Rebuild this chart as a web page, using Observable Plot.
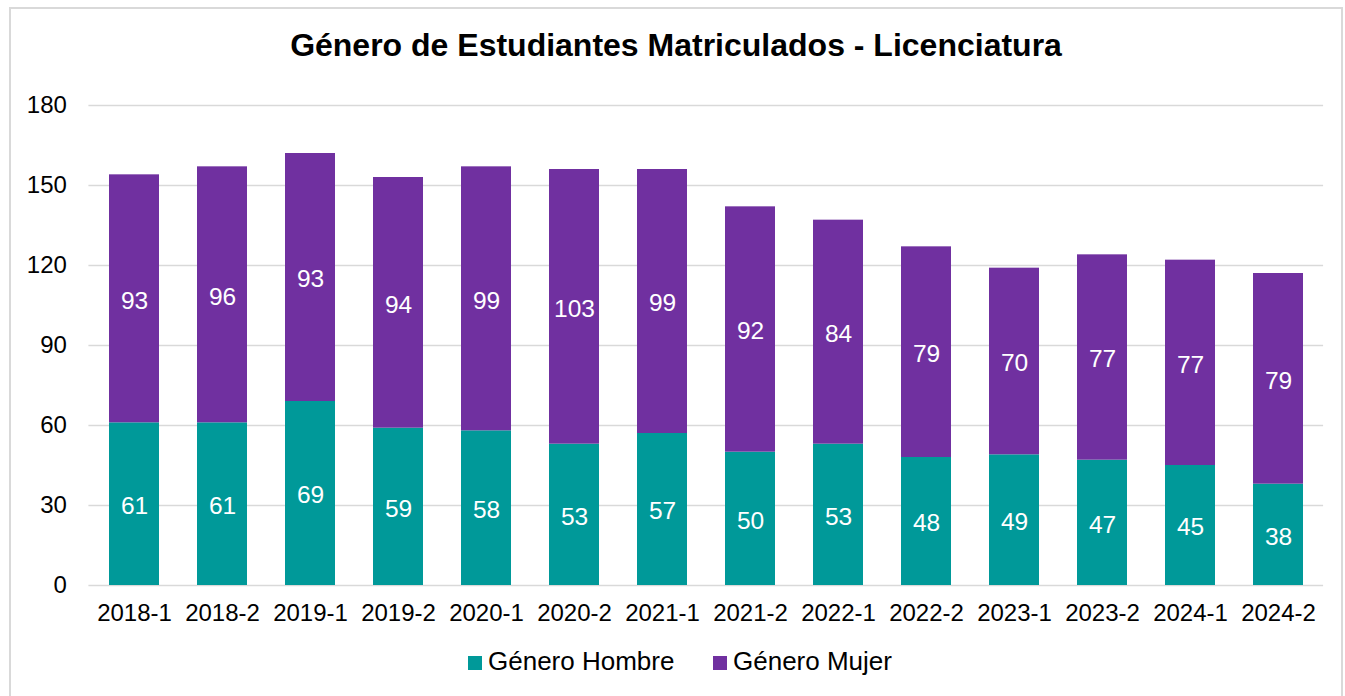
<!DOCTYPE html>
<html>
<head>
<meta charset="utf-8">
<script src="https://cdn.jsdelivr.net/npm/d3@7"></script>
<script src="https://cdn.jsdelivr.net/npm/@observablehq/plot@0.6"></script>
<style>
  html, body { margin: 0; padding: 0; background: #fff; }
  body { width: 1345px; height: 696px; position: relative; overflow: hidden; font-family: "Liberation Sans", Arial, sans-serif; }
  #frame { position: absolute; left: 9px; top: 7px; width: 1334px; height: 720px; box-sizing: border-box; border: 2px solid #d9d9d9; }
  #title { position: absolute; left: 9px; width: 1334px; top: 29px; text-align: center; font-size: 32px; line-height: 32px; font-weight: bold; color: #000; }
  #chart { position: absolute; left: 0; top: 0; }
  #legend { position: absolute; left: 0; top: 648px; width: 1345px; height: 30px; font-size: 26px; line-height: 26px; color: #000; }
  .item { position: absolute; top: 0; white-space: nowrap; }
  .sw { position: absolute; width: 14px; height: 14px; top: 8px; }
</style>
</head>
<body>
<div id="frame"></div>
<div id="chart"></div>
<div id="title">Género de Estudiantes Matriculados - Licenciatura</div>
<div id="legend"></div>
<script>
const periods = ["2018-1","2018-2","2019-1","2019-2","2020-1","2020-2","2021-1","2021-2","2022-1","2022-2","2023-1","2023-2","2024-1","2024-2"];
const hombre = [61,61,69,59,58,53,57,50,53,48,49,47,45,38];
const mujer  = [93,96,93,94,99,103,99,92,84,79,70,77,77,79];
const seriesNames = ["Género Hombre","Género Mujer"];
const seriesColors = ["#009999","#7030A0"];
const yTicks = [0,30,60,90,120,150,180];

const data = [];
periods.forEach((p, i) => {
  data.push({period: p, series: seriesNames[0], value: hombre[i]});
  data.push({period: p, series: seriesNames[1], value: mujer[i]});
});

const chart = Plot.plot({
  width: 1345,
  height: 696,
  marginLeft: 88.4,
  marginRight: 21.9,
  marginTop: 105,
  marginBottom: 111,
  style: {fontFamily: '"Liberation Sans", Arial, sans-serif', background: "transparent", color: "#000"},
  x: {domain: periods, paddingInner: 0.433, paddingOuter: 0.2165, label: null},
  y: {domain: [0, 180], label: null},
  color: {domain: seriesNames, range: seriesColors},
  marks: [
    Plot.gridY(yTicks, {stroke: "#d9d9d9", strokeOpacity: 1, strokeWidth: 1.5}),
    Plot.barY(data, Plot.stackY({x: "period", y: "value", fill: "series", order: seriesNames})),
    Plot.text(data, Plot.stackY({x: "period", y: "value", z: "series", order: seriesNames, text: d => String(d.value), fill: "white", fontSize: 24.5, dy: 2})),
    Plot.axisY(yTicks, {tickSize: 0, tickPadding: 22, fontSize: 24, label: null, fill: "#000"}),
    Plot.axisX({tickSize: 0, tickPadding: 18, fontSize: 24, label: null, fill: "#000"})
  ]
});
document.getElementById("chart").appendChild(chart);

const legend = document.getElementById("legend");
const legendX = [{sw: 468, tx: 488}, {sw: 713, tx: 733}];
seriesNames.forEach((name, i) => {
  const sw = document.createElement("div");
  sw.className = "sw";
  sw.style.left = legendX[i].sw + "px";
  sw.style.background = seriesColors[i];
  legend.appendChild(sw);
  const t = document.createElement("div");
  t.className = "item";
  t.style.left = legendX[i].tx + "px";
  t.textContent = name;
  legend.appendChild(t);
});
</script>
</body>
</html>
